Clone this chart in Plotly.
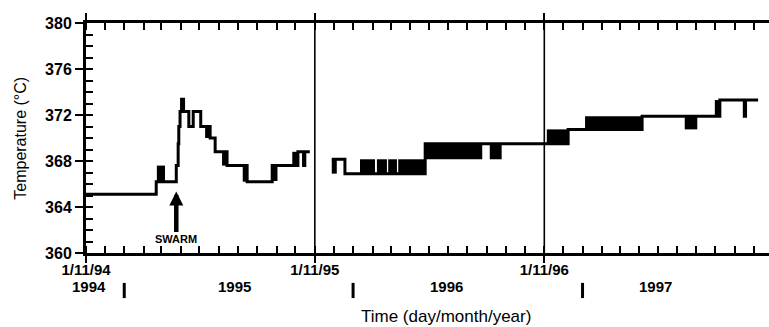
import pandas as pd
import plotly.graph_objects as go

# ---- data (days since 1 Nov 1994, temperature in degC) ----
start = pd.Timestamp("1994-11-01")
line_days = [0, 112, 144, 147, 148, 150, 164, 171, 183, 198, 206, 225, 257, 297, 301, 303, 338, 347, 349, 357,
             None,
             392, 413, 541, 769, 887, 1011, 1050, 1052, 1072]
line_temp = [365.1, 366.2, 367.6, 369.5, 371.0, 372.3, 371.0, 372.3, 371.0, 370.0, 368.8, 367.6, 366.2, 367.6, 366.4, 367.6, 368.8, 367.6, 368.8, 368.8,
             None,
             368.15, 366.9, 369.5, 370.75, 371.9, 373.3, 371.9, 373.3, 373.3]

# rapid-fluctuation bands (start day, end day, low, high)
band_start = [113, 150, 190, 217, 250, 329, 392, 437, 464, 482, 498, 541, 644, 735, 796, 955, 1003]
band_end = [126, 158, 198, 225, 257, 338, 400, 461, 480, 496, 541, 632, 663, 769, 887, 975, 1011]
band_low = [366.2, 372.3, 370.0, 367.6, 366.2, 367.6, 366.9, 366.9, 366.9, 366.9, 366.9, 368.15, 368.15, 369.5, 370.75, 370.75, 371.9]
band_high = [367.6, 373.5, 371.0, 368.8, 367.6, 368.8, 368.15, 368.15, 368.15, 368.15, 368.15, 369.5, 369.5, 370.75, 371.9, 371.9, 373.3]

x_tick_dates = ["1994-11-01", "1995-11-01", "1996-11-01"]
x_tick_text = ["1/11/94", "1/11/95", "1/11/96"]
year_labels = ["1994", "1995", "1996", "1997"]
year_label_dates = ["1994-11-06", "1995-06-26", "1996-05-29", "1997-04-28"]
year_sep_dates = ["1995-01-01", "1996-01-01", "1997-01-01"]
swarm_day = 144
swarm_temp = 365.35

def to_date(d):
    return None if d is None else start + pd.Timedelta(days=d)

line_x = [to_date(d) for d in line_days]
band_mid = [to_date((a + b) / 2) for a, b in zip(band_start, band_end)]
band_w = [(b - a) * 86400000 for a, b in zip(band_start, band_end)]
band_h = [h - l for l, h in zip(band_low, band_high)]

FONT = "Liberation Sans, Arial, sans-serif"

fig = go.Figure()
fig.add_trace(go.Bar(x=band_mid, y=band_h, base=band_low, width=band_w,
                     marker=dict(color="black", line=dict(width=0)), showlegend=False))
fig.add_trace(go.Scatter(x=line_x, y=line_temp, mode="lines", line=dict(color="black", width=3, shape="hv"),
                         connectgaps=False, showlegend=False))
# invisible trace for minor-tick overlay axis
fig.add_trace(go.Scatter(x=[line_x[0]], y=[line_temp[0]], yaxis="y2", mode="lines",
                         line=dict(width=0), showlegend=False, hoverinfo="skip"))

end_date = start + pd.Timedelta(days=1089.4)

fig.update_layout(
    width=769, height=327,
    margin=dict(l=86, r=0, t=23, b=74),
    paper_bgcolor="white", plot_bgcolor="white",
    barmode="overlay",
    xaxis=dict(type="date", range=[start, end_date],
               tickmode="array", tickvals=x_tick_dates, ticktext=x_tick_text,
               ticks="outside", ticklen=7, tickwidth=2, tickcolor="black",
               ticklabelstandoff=-6,
               showline=True, linewidth=3, linecolor="black", mirror="allticks",
               showgrid=False, zeroline=False,
               minor=dict(ticks="inside", dtick="M1", tick0="1994-11-01", ticklen=5, tickwidth=1.5,
                          tickcolor="black", showgrid=False),
               tickfont=dict(family=FONT, size=15, color="black", weight="bold")),
    yaxis=dict(range=[360, 380], tickmode="linear", tick0=360, dtick=4,
               ticks="outside", ticklen=8, tickwidth=2, tickcolor="black",
               showline=True, linewidth=3, linecolor="black",
               showgrid=False, zeroline=False,
               tickfont=dict(family=FONT, size=16, color="black", weight="bold")),
    yaxis2=dict(range=[360, 380], overlaying="y", side="left", anchor="x",
                tickmode="linear", tick0=360, dtick=1, ticks="inside", ticklen=7, tickwidth=2,
                tickcolor="black", showticklabels=False, showline=False, showgrid=False, zeroline=False),
)

shapes = []
for d in x_tick_dates[1:]:
    shapes.append(dict(type="line", xref="x", yref="paper", x0=d, x1=d, y0=0, y1=1,
                       line=dict(color="black", width=1.6)))
for d in year_sep_dates:
    shapes.append(dict(type="line", xref="x", yref="paper", x0=d, x1=d, y0=-0.13, y1=-0.196,
                       line=dict(color="black", width=3)))
fig.update_layout(shapes=shapes)

ann = []
for t, d in zip(year_labels, year_label_dates):
    ann.append(dict(text=t, x=d, xref="x", y=-0.145, yref="paper", showarrow=False,
                    xanchor="center", yanchor="middle",
                    font=dict(family=FONT, size=15, color="black", weight="bold")))
ann.append(dict(text="Time (day/month/year)", x=0.527, xref="paper", y=-0.274, yref="paper",
                showarrow=False, xanchor="center", yanchor="middle",
                font=dict(family=FONT, size=17, color="black")))
ann.append(dict(text="Temperature (°C)", x=-0.097, xref="paper", y=0.5, yref="paper", textangle=-90,
                showarrow=False, xanchor="center", yanchor="middle",
                font=dict(family=FONT, size=16, color="black")))
ann.append(dict(text="SWARM", x=to_date(swarm_day), y=swarm_temp, xref="x", yref="y",
                showarrow=True, ax=0, ay=48, arrowhead=2, arrowsize=0.62, arrowwidth=4.5,
                arrowcolor="black", font=dict(family=FONT, size=11, color="black", weight="bold")))
fig.update_layout(annotations=ann)

fig.write_html("out.html")
